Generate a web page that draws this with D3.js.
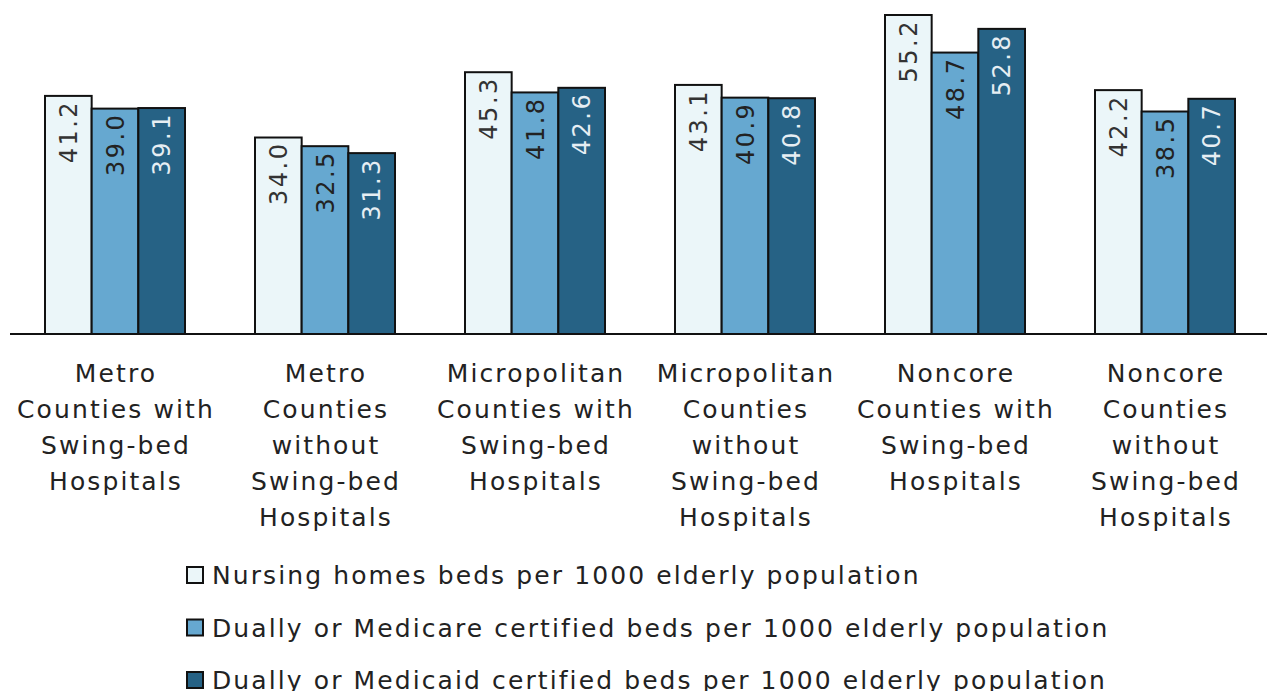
<!DOCTYPE html>
<html>
<head>
  <meta charset="utf-8">
  <script src="https://d3js.org/d3.v7.min.js"></script>
  <style>
    body { margin: 0; background: #fff; }
    text { font-family: "DejaVu Sans", sans-serif; }
  </style>
</head>
<body>
<script>
// categories (each label split into lines)
var categories = [
  ["Metro", "Counties with", "Swing-bed", "Hospitals"],
  ["Metro", "Counties", "without", "Swing-bed", "Hospitals"],
  ["Micropolitan", "Counties with", "Swing-bed", "Hospitals"],
  ["Micropolitan", "Counties", "without", "Swing-bed", "Hospitals"],
  ["Noncore", "Counties with", "Swing-bed", "Hospitals"],
  ["Noncore", "Counties", "without", "Swing-bed", "Hospitals"]
];
var seriesNames = [
  "Nursing homes beds per 1000 elderly population",
  "Dually or Medicare certified beds per 1000 elderly population",
  "Dually or Medicaid certified beds per 1000 elderly population"
];
var nursingHomes = [41.2, 34.0, 45.3, 43.1, 55.2, 42.2];
var medicare     = [39.0, 32.5, 41.8, 40.9, 48.7, 38.5];
var medicaid     = [39.1, 31.3, 42.6, 40.8, 52.8, 40.7];

var colors = ["#ebf6f9", "#66a8d0", "#266285"];
var labelColors = ["#333", "#222", "#e6eef3"];

var width = 1267, height = 691;
var svg = d3.select("body").append("svg")
  .attr("width", width).attr("height", height);

var series = [nursingHomes, medicare, medicaid];
var x0 = d3.scaleBand().domain(d3.range(categories.length)).range([10, 1270]);
var x1 = d3.scaleBand().domain(d3.range(3)).range([0, 140]);
var y = d3.scaleLinear().domain([0, 55.2]).range([334, 15]);

var groups = svg.selectAll(".grp").data(categories).enter().append("g")
  .attr("transform", function(d, i) { return "translate(" + (x0(i) + x0.bandwidth() / 2 - 70) + ",0)"; });

groups.each(function(c, i) {
  var g = d3.select(this);
  series.forEach(function(s, j) {
    g.append("rect")
      .attr("x", x1(j)).attr("y", y(s[i]))
      .attr("width", x1.bandwidth()).attr("height", y(0) - y(s[i]))
      .attr("fill", colors[j]).attr("stroke", "#111").attr("stroke-width", 2);
    var cx = x1(j) + x1.bandwidth() / 2, ty = y(s[i]) + 4;
    g.append("text")
      .attr("transform", "translate(" + cx + "," + ty + ") rotate(-90)")
      .attr("text-anchor", "end").attr("dy", "0.36em")
      .style("font-size", "24px").style("letter-spacing", "2.5px")
      .attr("fill", labelColors[j])
      .text(s[i].toFixed(1));
  });
  var t = g.append("text").attr("text-anchor", "middle")
    .style("font-size", "25px").style("letter-spacing", "2.1px").attr("fill", "#222");
  c.forEach(function(line, k) {
    t.append("tspan").attr("x", 71).attr("y", 382 + k * 36).text(line);
  });
});

// axis line
svg.append("line").attr("x1", 10).attr("x2", 1267)
  .attr("y1", y(0)).attr("y2", y(0))
  .attr("stroke", "#111").attr("stroke-width", 2);

// legend
var legend = svg.selectAll(".leg").data(seriesNames).enter().append("g")
  .attr("transform", function(d, i) { return "translate(187," + (575 + i * 52.5) + ")"; });
legend.append("rect").attr("x", 0).attr("y", -8).attr("width", 16).attr("height", 16)
  .attr("fill", function(d, i) { return colors[i]; })
  .attr("stroke", "#111").attr("stroke-width", 2);
legend.append("text").attr("x", 25).attr("dy", "0.36em")
  .style("font-size", "25px").style("letter-spacing", "2.1px").attr("fill", "#222")
  .text(function(d) { return d; });
</script>
</body>
</html>
